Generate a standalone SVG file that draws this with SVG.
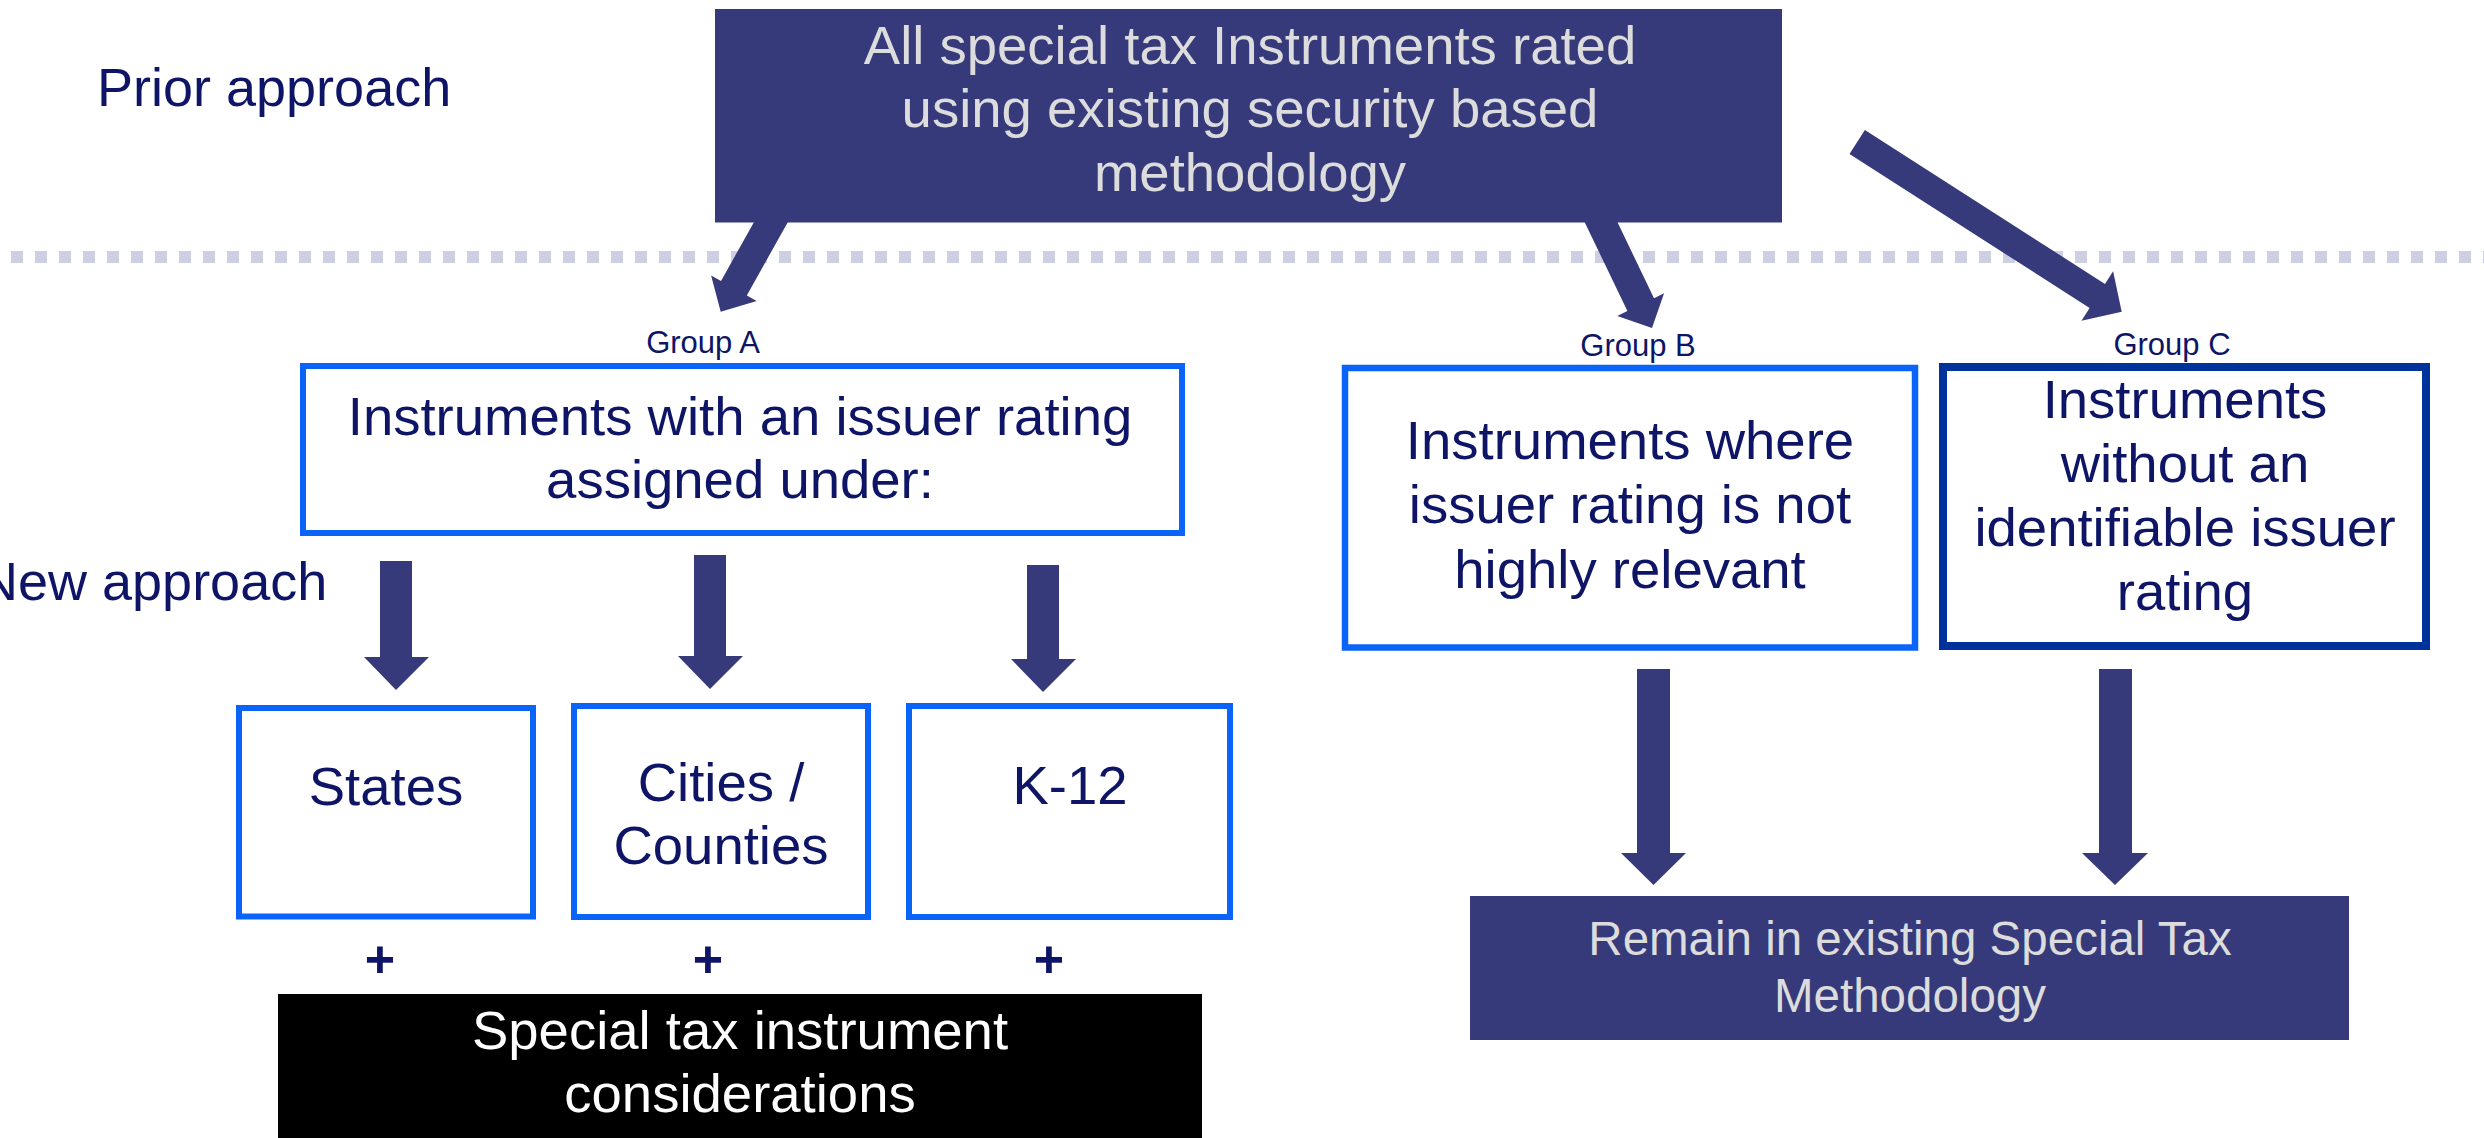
<svg xmlns="http://www.w3.org/2000/svg" width="2484" height="1138" viewBox="0 0 2484 1138">
  <defs>
    <style>
      text { font-family: "Liberation Sans", Arial, sans-serif; text-anchor: middle; }
      .main { font-size: 54.5px; fill: #0e1566; }
      .light { font-size: 54.5px; fill: #dcdcdc; }
      .white { font-size: 54.5px; fill: #ffffff; }
      .side { font-size: 54px; fill: #0e1566; text-anchor: start; }
      .grp { font-size: 31px; fill: #0e1566; }
      .plus { font-size: 52px; font-weight: bold; fill: #0e1566; }
      .navy { fill: #363a7b; }
      .box-blue { fill: #ffffff; stroke: #0a64fa; stroke-width: 6; }
      .box-dark { fill: #ffffff; stroke: #00329c; stroke-width: 8; }
      .arrow { fill: #363a7b; }
    </style>
  </defs>

  <rect width="2484" height="1138" fill="#ffffff"/>

  <!-- section labels and divider -->
  <g id="labels">
    <text class="side" x="97" y="106">Prior approach</text>
    <text class="side" x="-21" y="600">New approach</text>
    <line x1="11" y1="257" x2="2484" y2="257" stroke="#cdcfe2" stroke-width="12" stroke-dasharray="12 12"/>
  </g>

  <!-- block arrows -->
  <g id="connectors">
    <polygon class="arrow" points="796.2,207.2 746.8,295.4 756.7,301.0 720.7,311.7 711.1,275.4 721.0,281.0 770.4,192.8"/>
    <polygon class="arrow" points="1603.7,193.6 1654.0,298.2 1664.1,293.3 1652,328 1617.3,315.9 1627.4,311.0 1577.1,206.4"/>
    <polygon class="arrow" points="1864.9,130.0 2105.0,284.0 2113.1,271.3 2121.7,311.7 2081.5,320.7 2089.6,308.0 1849.5,154.0"/>
    <polygon class="arrow" points="380,561 412,561 412,657 429,657 396,690 364,657 380,657"/>
    <polygon class="arrow" points="694,555 726,555 726,656 743,656 710,689 678,656 694,656"/>
    <polygon class="arrow" points="1027,565 1059,565 1059,659 1076,659 1043,692 1011,659 1027,659"/>
    <polygon class="arrow" points="1637,669 1670,669 1670,853 1686,853 1653.5,885 1621,853 1637,853"/>
    <polygon class="arrow" points="2099,669 2132,669 2132,853 2148,853 2115,885 2082,853 2099,853"/>
  </g>

  <g id="prior">
    <rect class="navy" x="715" y="9" width="1067" height="213.5"/>
    <text class="light" x="1250" y="64">All special tax Instruments rated</text>
    <text class="light" x="1250" y="127">using existing security based</text>
    <text class="light" x="1250" y="191">methodology</text>
  </g>

  <g id="group-a">
    <text class="grp" x="703" y="353">Group A</text>
    <rect class="box-blue" x="303" y="366" width="879" height="167"/>
    <text class="main" x="740" y="435">Instruments with an issuer rating</text>
    <text class="main" x="740" y="498">assigned under:</text>
  </g>

  <g id="group-b">
    <text class="grp" x="1638" y="356">Group B</text>
    <rect class="box-blue" x="1345" y="368" width="570" height="279.5" style="stroke-width:6.5"/>
    <text class="main" x="1630" y="459">Instruments where</text>
    <text class="main" x="1630" y="523">issuer rating is not</text>
    <text class="main" x="1630" y="588">highly relevant</text>
  </g>

  <g id="group-c">
    <text class="grp" x="2172" y="355">Group C</text>
    <rect class="box-dark" x="1943" y="367" width="483" height="279"/>
    <text class="main" x="2185" y="418">Instruments</text>
    <text class="main" x="2185" y="482">without an</text>
    <text class="main" x="2185" y="546">identifiable issuer</text>
    <text class="main" x="2185" y="610">rating</text>
  </g>

  <g id="states">
    <rect class="box-blue" x="239" y="708" width="294" height="208.5"/>
    <text class="main" x="386" y="805">States</text>
    <text class="plus" x="380" y="977">+</text>
  </g>

  <g id="cities">
    <rect class="box-blue" x="574" y="706" width="294" height="211"/>
    <text class="main" x="721" y="801">Cities /</text>
    <text class="main" x="721" y="864">Counties</text>
    <text class="plus" x="708" y="977">+</text>
  </g>

  <g id="k12">
    <rect class="box-blue" x="909" y="706" width="321" height="211"/>
    <text class="main" x="1070" y="804">K-12</text>
    <text class="plus" x="1049" y="977">+</text>
  </g>

  <g id="considerations">
    <rect x="278" y="994" width="924" height="150" fill="#000000"/>
    <text class="white" x="740" y="1049">Special tax instrument</text>
    <text class="white" x="740" y="1112">considerations</text>
  </g>

  <g id="remain">
    <rect class="navy" x="1470" y="896" width="879" height="144"/>
    <text class="light" x="1910" y="955" style="font-size:47.5px">Remain in existing Special Tax</text>
    <text class="light" x="1910" y="1012" style="font-size:47.5px">Methodology</text>
  </g>
</svg>
